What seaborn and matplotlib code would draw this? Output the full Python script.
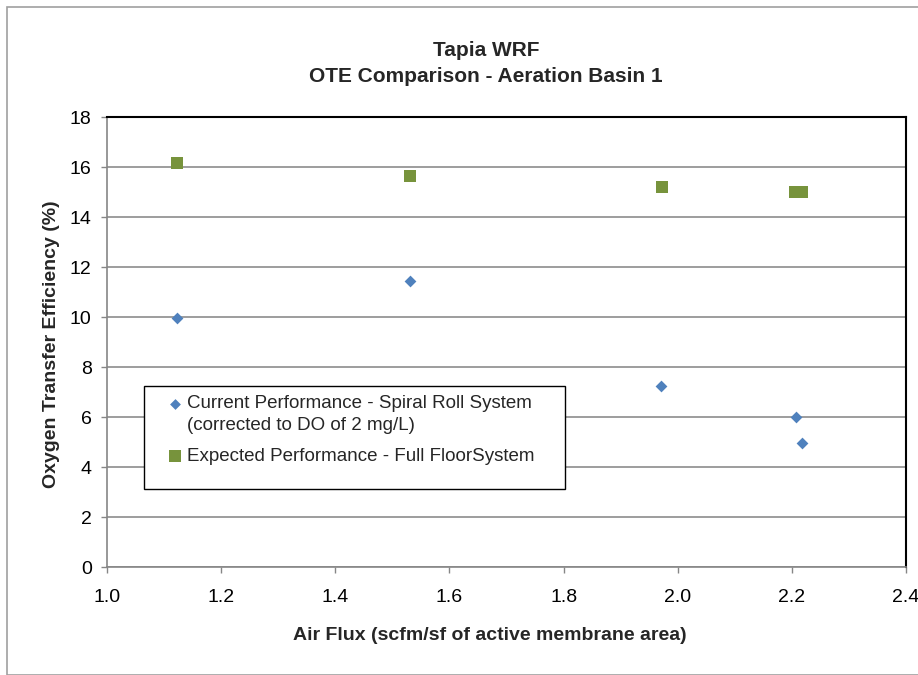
import matplotlib
matplotlib.use("Agg")
import matplotlib.pyplot as plt
import seaborn as sns
import pandas as pd
import numpy as np
from matplotlib.patches import Rectangle

# Data
current_x = [1.122, 1.531, 1.970, 2.208, 2.217]
current_y = [9.95, 11.44, 7.23, 6.02, 4.95]
expected_x = [1.122, 1.531, 1.972, 2.205, 2.217]
expected_y = [16.15, 15.64, 15.19, 15.0, 15.0]
series_names = ["Current Performance - Spiral Roll System\n(corrected to DO of 2 mg/L)",
                "Expected Performance - Full FloorSystem"]
x_ticks = [1.0, 1.2, 1.4, 1.6, 1.8, 2.0, 2.2, 2.4]
y_ticks = [0, 2, 4, 6, 8, 10, 12, 14, 16, 18]

sns.set_theme(style="white")
plt.rcParams['font.family'] = ['Liberation Sans', 'DejaVu Sans']

W, H = 918, 675
fig = plt.figure(figsize=(W/100, H/100), dpi=100)
ax = fig.add_axes([107/W, 1-567/H, (906-107)/W, (567-117)/H])

df_c = pd.DataFrame({"x": current_x, "y": current_y})
df_e = pd.DataFrame({"x": expected_x, "y": expected_y})

sns.scatterplot(data=df_c, x="x", y="y", marker="D", s=36, color="#4F81BD",
                edgecolor="#4F81BD", linewidth=0, ax=ax, label=series_names[0], zorder=3)
sns.scatterplot(data=df_e, x="x", y="y", marker="s", s=68, color="#77933C",
                edgecolor="#77933C", linewidth=0, ax=ax, label=series_names[1], zorder=3)

ax.set_xlim(1.0, 2.4)
ax.set_ylim(0, 18)
ax.set_xticks(x_ticks)
ax.set_xticklabels([f"{v:.1f}" for v in x_ticks])
ax.set_yticks(y_ticks)
ax.set_yticklabels([str(v) for v in y_ticks])
ax.yaxis.grid(True, color="#8C8C8C", linewidth=1.2)
ax.set_axisbelow(True)

for s in ["left", "bottom"]:
    ax.spines[s].set_color("#868686")
    ax.spines[s].set_linewidth(1.2)
for s in ["top", "right"]:
    ax.spines[s].set_color("#000000")
    ax.spines[s].set_linewidth(1.5)

ax.tick_params(axis="both", which="both", length=4, width=1, color="#868686",
               direction="out", labelsize=14, labelcolor="#000000")
ax.tick_params(axis="x", pad=12)
ax.tick_params(axis="y", pad=7)
ax.tick_params(bottom=True, left=True)

ax.set_xlabel("Air Flux (scfm/sf of active membrane area)", fontsize=14,
              fontweight="bold", va="center")
ax.set_ylabel("Oxygen Transfer Efficiency (%)", fontsize=14,
              fontweight="bold", va="center")
ax.xaxis.set_label_coords((490-107)/799, (567-636)/450)
ax.yaxis.set_label_coords((51-107)/799, (567-344)/450)

fig.text(486/W, 1-51/H, "Tapia WRF", ha="center", va="center",
         fontsize=15, fontweight="bold")
fig.text(486/W, 1-76/H, "OTE Comparison - Aeration Basin 1", ha="center",
         va="center", fontsize=15, fontweight="bold")

# legend box
box = Rectangle((144/W, 1-489/H), 421/W, 103/H, transform=fig.transFigure,
                facecolor="white", edgecolor="#000000", linewidth=1.0,
                zorder=4, clip_on=False)
ax.add_patch(box)

leg = ax.legend(loc="upper left", bbox_to_anchor=(167/W, 1-395/H),
                bbox_transform=fig.transFigure,
                frameon=False, fontsize=13.5, handletextpad=0.15,
                handlelength=0.9, borderpad=0, labelspacing=0.75,
                borderaxespad=0)
leg.set_zorder(5)
for t in leg.get_texts():
    t.set_linespacing(1.4)
handles = getattr(leg, "legend_handles", None) or leg.legendHandles
for i, (h, sz) in enumerate(zip(handles, [5.5, 8.5])):
    shift = 8.5 if i == 0 else 0.0
    if hasattr(h, "set_sizes"):
        h.set_sizes([sz**2])
        off = np.asarray(h.get_offsets(), dtype=float).copy()
        off[:, 1] += shift
        h.set_offsets(off)
    elif hasattr(h, "set_markersize"):
        h.set_markersize(sz)
        h.set_ydata(np.asarray(h.get_ydata(), dtype=float) + shift)

fig.patches.append(Rectangle((7/W, 0), 1, 1-7/H, transform=fig.transFigure,
                             fill=False, edgecolor="#A0A0A0", linewidth=1.2))

fig.savefig("out.png", dpi=100)
